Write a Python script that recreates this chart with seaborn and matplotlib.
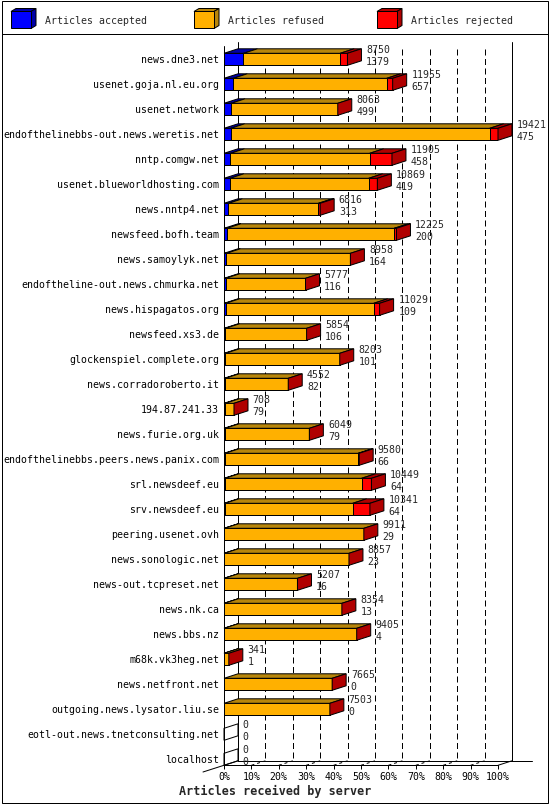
import pandas as pd
import matplotlib.pyplot as plt
import seaborn as sns
from matplotlib.patches import Polygon, Rectangle

# Articles received by server (innreport style chart)
servers = [
    "news.dne3.net", "usenet.goja.nl.eu.org", "usenet.network",
    "endofthelinebbs-out.news.weretis.net", "nntp.comgw.net",
    "usenet.blueworldhosting.com", "news.nntp4.net", "newsfeed.bofh.team",
    "news.samoylyk.net", "endoftheline-out.news.chmurka.net",
    "news.hispagatos.org", "newsfeed.xs3.de", "glockenspiel.complete.org",
    "news.corradoroberto.it", "194.87.241.33", "news.furie.org.uk",
    "endofthelinebbs.peers.news.panix.com", "srl.newsdeef.eu",
    "srv.newsdeef.eu", "peering.usenet.ovh", "news.sonologic.net",
    "news-out.tcpreset.net", "news.nk.ca", "news.bbs.nz", "m68k.vk3heg.net",
    "news.netfront.net", "outgoing.news.lysator.liu.se",
    "eotl-out.news.tnetconsulting.net", "localhost",
]
total = [8750, 11955, 8063, 19421, 11905, 10869, 6816, 12225, 8958, 5777,
         11029, 5854, 8203, 4552, 708, 6049, 9580, 10449, 10341, 9911,
         8857, 5207, 8354, 9405, 341, 7665, 7503, 0, 0]
accepted = [1379, 657, 499, 475, 458, 419, 313, 200, 164, 116,
            109, 106, 101, 82, 79, 79, 66, 64, 64, 29,
            23, 16, 13, 4, 1, 0, 0, 0, 0]
# rejected counts estimated from the red segment lengths
rejected = [520, 420, 0, 590, 1580, 615, 120, 160, 0, 0,
            420, 0, 0, 0, 0, 0, 70, 700, 1220, 0,
            0, 0, 0, 0, 0, 0, 0, 0, 0]
legend_labels = ["Articles accepted", "Articles refused", "Articles rejected"]

BLUE, BLUE_D = "#0000ff", "#0000a8"
ORANGE, ORANGE_D = "#ffb000", "#b8860b"
RED, RED_D = "#ff0000", "#b00000"
LW = 0.72
FS = 7.1

sns.set_theme(style="white")
plt.rcParams['font.family'] = ['DejaVu Sans Mono']

df = pd.DataFrame({"server": servers, "total": total,
                   "accepted": accepted, "rejected": rejected})
df["refused"] = df["total"] - df["accepted"] - df["rejected"]
scale = 100.0 / df["total"].max()
df["acc_pct"] = df["accepted"] * scale
df["accref_pct"] = (df["accepted"] + df["refused"]) * scale
df["tot_pct"] = df["total"] * scale

W, H = 550, 805
fig = plt.figure(figsize=(W / 100, H / 100), dpi=100)

# background axes in pixel units for frame and legend
bg = fig.add_axes([0, 0, 1, 1], zorder=0)
bg.set_xlim(0, W)
bg.set_ylim(H, 0)
bg.axis("off")
bg.add_patch(Rectangle((1.5, 1.5), W - 3.5, H - 3.5, fc="none", ec="black", lw=LW))
bg.plot([1.5, W - 2], [34, 34], color="black", lw=LW)

for (label, fc, dc), x in zip(zip(legend_labels, [BLUE, ORANGE, RED],
                                  [BLUE_D, ORANGE_D, RED_D]), [11, 194, 377]):
    bg.add_patch(Polygon([(x, 11.5), (x + 20, 11.5), (x + 25, 8.5), (x + 5, 8.5)],
                         fc=dc, ec="black", lw=LW))
    bg.add_patch(Polygon([(x + 20, 11.5), (x + 25, 8.5), (x + 25, 25.5), (x + 20, 28.5)],
                         fc=dc, ec="black", lw=LW))
    bg.add_patch(Rectangle((x, 11.5), 20, 17, fc=fc, ec="black", lw=LW))
    bg.text(x + 34, 20.5, label, va="center", ha="left", fontsize=FS)

# main chart axes: x in percent, y in rows
x0_px, px_pct = 224, 2.74
top_px, bot_px = 42, 765.3
ax = fig.add_axes([x0_px / W, 1 - bot_px / H, 100 * px_pct / W, (bot_px - top_px) / H],
                  zorder=1)
ax.patch.set_alpha(0)

bar_h = 0.48
for col, color in [("tot_pct", RED), ("accref_pct", ORANGE), ("acc_pct", BLUE)]:
    sns.barplot(data=df, x=col, y="server", orient="h", color=color,
                saturation=1, width=bar_h, errorbar=None,
                edgecolor="black", linewidth=LW, ax=ax)

row_px = 25.0
y_floor = len(servers) - 1 + bar_h / 2
y_top = y_floor - (bot_px - top_px) / row_px
ax.set_xlim(0, 100)
ax.set_ylim(y_floor, y_top)

dx = 14 / px_pct
dy = 4.5 / row_px

# 3D top and side faces plus labels
for i, r in df.iterrows():
    top, bot = i - bar_h / 2, i + bar_h / 2
    segs = [(0, r.acc_pct, BLUE_D), (r.acc_pct, r.accref_pct, ORANGE_D),
            (r.accref_pct, r.tot_pct, RED_D)]
    for a, b, c in segs:
        if b > a:
            ax.add_patch(Polygon([(a, top), (b, top), (b + dx, top - dy), (a + dx, top - dy)],
                                 fc=c, ec="black", lw=LW, clip_on=False, zorder=3))
    end = r.tot_pct
    ax.add_patch(Polygon([(end, top), (end + dx, top - dy), (end + dx, bot - dy), (end, bot)],
                         fc=RED_D if r.total > 0 else "none", ec="black", lw=LW,
                         clip_on=False, zorder=3))
    ax.text(end + dx + 1.7, i - 0.37, f"{r.total}", va="center", ha="left", fontsize=FS)
    ax.text(end + dx + 1.7, i + 0.09, f"{r.accepted}", va="center", ha="left", fontsize=FS)

# walls, floor and grid
y_back = y_floor - dy
line_kw = dict(color="black", lw=LW, clip_on=False)
ax.plot([0, 0], [y_top + dy, y_floor], zorder=0.5, **line_kw)
ax.plot([dx, dx], [y_top, y_back], zorder=0.5, **line_kw)
ax.plot([100 + dx, 100 + dx], [y_top, y_back], zorder=0.5, **line_kw)
for k in range(10, 100, 10):
    ax.plot([k + dx, k + dx], [y_top + 0.3, y_back], ls=(0, (6, 3.5)), zorder=0.5, **line_kw)
    ax.plot([k, k + dx], [y_floor, y_back], ls=(0, (3, 3)), zorder=0.5, **line_kw)
ax.plot([0, 100], [y_floor, y_floor], zorder=0.5, **line_kw)
ax.plot([dx, 308 / px_pct], [y_back, y_back], zorder=0.5, **line_kw)
ax.plot([-21 / px_pct, dx], [y_floor + 6.7 / row_px, y_back], zorder=0.5, **line_kw)
ax.plot([100, 100 + dx], [y_floor, y_back], zorder=0.5, **line_kw)

for s in ax.spines.values():
    s.set_visible(False)
ax.set_xticks(range(0, 101, 10))
ax.set_xticklabels([f"{k}%" for k in range(0, 101, 10)])
ax.tick_params(axis="x", bottom=True, length=3, width=LW, pad=2, labelsize=FS, colors="black")
ax.tick_params(axis="y", left=False, length=0, pad=3.5, labelsize=FS, labelcolor="black")
ax.set_xlabel("")
ax.set_ylabel("")

fig.text(275 / W, 1 - 791 / H, "Articles received by server", ha="center", va="center",
         fontsize=8.5, fontweight="bold")

fig.savefig("out.png", dpi=100)
